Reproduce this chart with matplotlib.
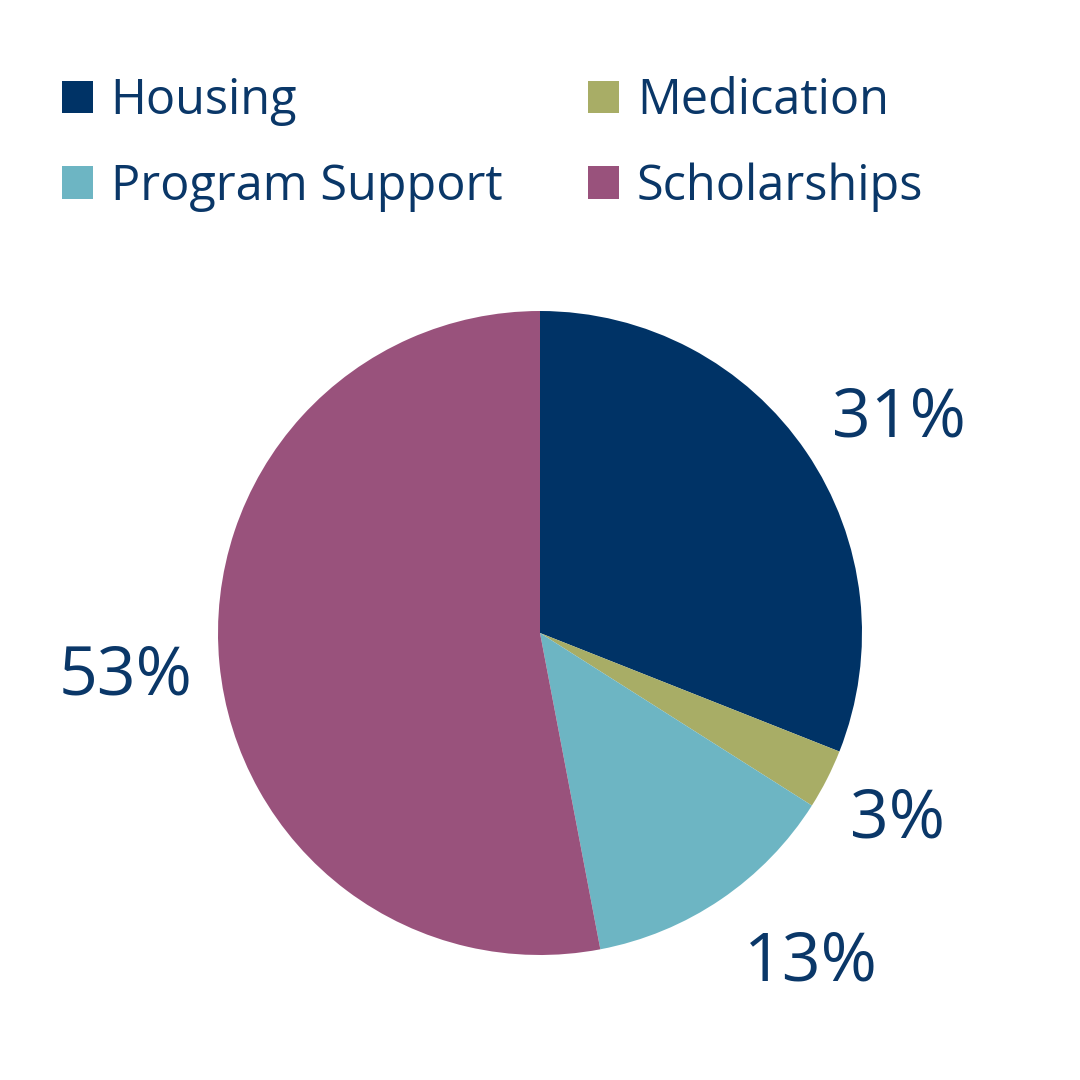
import matplotlib
matplotlib.use("Agg")
import matplotlib.pyplot as plt
from matplotlib.patches import Patch
import numpy as np

# ---- data ----
categories = ["Housing", "Medication", "Program Support", "Scholarships"]
shares = [31, 3, 13, 53]
pct_labels = ["31%", "3%", "13%", "53%"]
colors = ["#003366", "#A8AD66", "#6DB5C3", "#99527C"]

# ---- layout (pixel space of a 1080x1080 canvas) ----
W = 1080
center = (540, W - 633)
radius = 322
# label placement: (angle in degrees, distance in px from centre)
label_polar = [(30.9, 418), (-27.6, 403), (-50.6, 427), (-174.0, 417)]
text_color = "#0A3768"
font = ["Open Sans", "DejaVu Sans"]

fig = plt.figure(figsize=(10.8, 10.8), dpi=100)
ax = fig.add_axes([0, 0, 1, 1])
ax.set_xlim(0, W)
ax.set_ylim(0, W)
ax.set_aspect("equal")
ax.axis("off")

wedges, _ = ax.pie(shares, colors=colors, startangle=90, counterclock=False,
                   center=center, radius=radius,
                   wedgeprops=dict(edgecolor="none", linewidth=0))
ax.set_xlim(0, W)
ax.set_ylim(0, W)

for lab, (ang, dist) in zip(pct_labels, label_polar):
    a = np.deg2rad(ang)
    ax.text(center[0] + dist * np.cos(a), center[1] + dist * np.sin(a), lab,
            ha="center", va="center", fontsize=49, color=text_color,
            family=font)

# legend filled row by row (matplotlib fills columns first, so reorder)
handles = [Patch(facecolor=c, edgecolor="none") for c in colors]
order = [0, 2, 1, 3]
leg = ax.legend([handles[i] for i in order], [categories[i] for i in order],
                loc="upper left", ncol=2,
                bbox_to_anchor=(0.057, 0.929), bbox_transform=fig.transFigure,
                frameon=False, prop=dict(family=font, size=35),
                handlelength=0.64, handleheight=0.64, handletextpad=0.37,
                columnspacing=1.76, labelspacing=0.74, borderpad=0, borderaxespad=0)
for t in leg.get_texts():
    t.set_color(text_color)

fig.savefig("out.png", dpi=100, facecolor="white")
